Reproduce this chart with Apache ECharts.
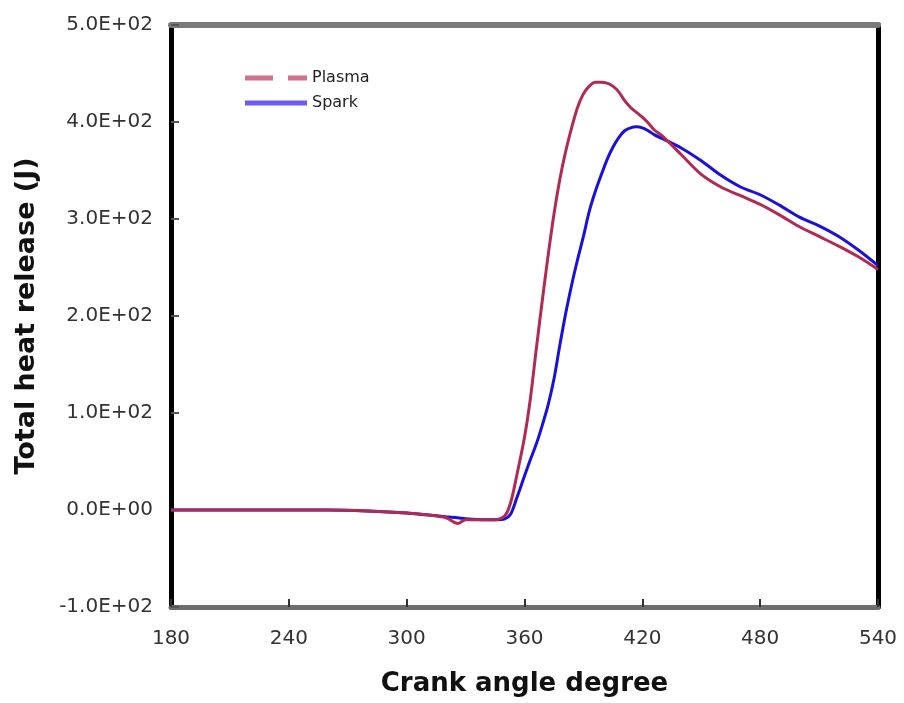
<!DOCTYPE html>
<html>
<head>
<meta charset="utf-8">
<script src="https://cdn.jsdelivr.net/npm/echarts@6/dist/echarts.min.js"></script>
<style>
  html, body { margin: 0; padding: 0; background: #fff; }
  #main { width: 904px; height: 703px; }
</style>
</head>
<body>
<div id="main"></div>
<script>
// crank angles
const angles = [180, 200, 220, 240, 260, 280, 300, 310, 320, 326, 330, 340, 345, 350, 353, 356,
  360, 363, 366, 369, 372, 375, 378, 381, 384, 387, 390, 393, 396, 399, 402, 405, 408, 411,
  414, 417, 420, 423, 426, 430, 440, 450, 460, 470, 480, 490, 500, 510, 520, 530, 540]

const plasma = [0, 0, 0, 0, 0, -1, -3, -5, -8, -14, -10, -10, -10, -6, 8, 35,
  75, 115, 166, 215, 262, 305, 341, 370, 394, 415, 429, 437, 441, 441, 440, 437, 431, 422,
  415, 410, 405, 399, 392, 386, 366, 346, 333, 324, 315, 304, 292, 282, 272, 261, 248]

const spark = [0, 0, 0, 0, 0, -1, -3, -5, -7, -8, -9, -10, -10, -9, -4, 12,
  35, 52, 68, 87, 108, 135, 170, 203, 232, 258, 282, 308, 328, 345, 361, 374, 384, 391,
  394, 395, 394, 391, 387, 383, 373, 360, 345, 333, 325, 314, 302, 293, 282, 268, 252]

const chart = echarts.init(document.getElementById('main'))

function pairs(vals) {
    return angles.map((a, i) => [a, vals[i]])
}

function sci(v) {
    // 5.0E+02 style labels
    let s = Number(v).toExponential(1).toUpperCase()
    return s.replace(/E([+-])(\d)$/, 'E$10$2')
}

const option = {
    backgroundColor: '#fff',
    animation: false,
    grid: {
        left: 171,
        right: 26,
        top: 25,
        bottom: 96
    },
    legend: {
        left: 245,
        top: 70,
        padding: 0,
        orient: 'vertical',
        itemWidth: 62,
        itemHeight: 5,
        itemGap: 9,
        textStyle: {
            fontFamily: 'DejaVu Sans',
            fontSize: 16,
            color: '#222'
        },
        data: [
            { name: 'Plasma', icon: 'path://M0,0h28v5h-28z M43,0h19v5h-19z', itemStyle: { color: '#d4708e' } },
            { name: 'Spark', icon: 'rect', itemStyle: { color: '#6a5cf0' } }
        ]
    },
    xAxis: [{
        type: 'value',
        min: 180,
        max: 540,
        interval: 60,
        name: 'Crank angle degree',
        nameLocation: 'middle',
        nameGap: 64,
        nameTextStyle: {
            fontFamily: 'DejaVu Sans',
            fontWeight: 'bold',
            fontSize: 26,
            color: '#111'
        },
        axisLine: { onZero: false, lineStyle: { color: '#6e6e6e', width: 5 } },
        axisTick: { inside: true, length: 8, lineStyle: { color: '#333', width: 2 } },
        axisLabel: {
            margin: 22,
            fontFamily: 'DejaVu Sans',
            fontSize: 20,
            color: '#333'
        },
        splitLine: { show: false }
    }, {
        type: 'value',
        position: 'top',
        min: 180,
        max: 540,
        axisLine: { onZero: false, lineStyle: { color: '#7a7a7a', width: 6 } },
        axisTick: { show: false },
        axisLabel: { show: false },
        splitLine: { show: false }
    }],
    yAxis: [{
        type: 'value',
        min: -100,
        max: 500,
        interval: 100,
        name: 'Total heat release (J)',
        nameLocation: 'middle',
        nameGap: 131,
        nameTextStyle: {
            fontFamily: 'DejaVu Sans',
            fontWeight: 'bold',
            fontSize: 27,
            color: '#111'
        },
        axisLine: { onZero: false, lineStyle: { color: '#000', width: 5 } },
        axisTick: { inside: true, length: 8, lineStyle: { color: '#555', width: 2 } },
        axisLabel: {
            margin: 18,
            fontFamily: 'DejaVu Sans',
            fontSize: 20,
            color: '#333',
            formatter: sci
        },
        splitLine: { show: false }
    }, {
        type: 'value',
        position: 'right',
        min: -100,
        max: 500,
        axisLine: { show: true, onZero: false, lineStyle: { color: '#000', width: 5 } },
        axisTick: { show: false },
        axisLabel: { show: false },
        splitLine: { show: false }
    }],
    series: [{
        name: 'Spark',
        type: 'line',
        data: pairs(spark),
        symbol: 'none',
        smooth: 0.3,
        color: '#1a10dc',
        lineStyle: { width: 3, color: '#1a10dc' },
        z: 2
    }, {
        name: 'Plasma',
        type: 'line',
        data: pairs(plasma),
        symbol: 'none',
        smooth: 0.3,
        color: '#b02a52',
        lineStyle: { width: 3, color: '#b02a52' },
        z: 3
    }]
}
chart.setOption(option)
</script>
</body>
</html>
